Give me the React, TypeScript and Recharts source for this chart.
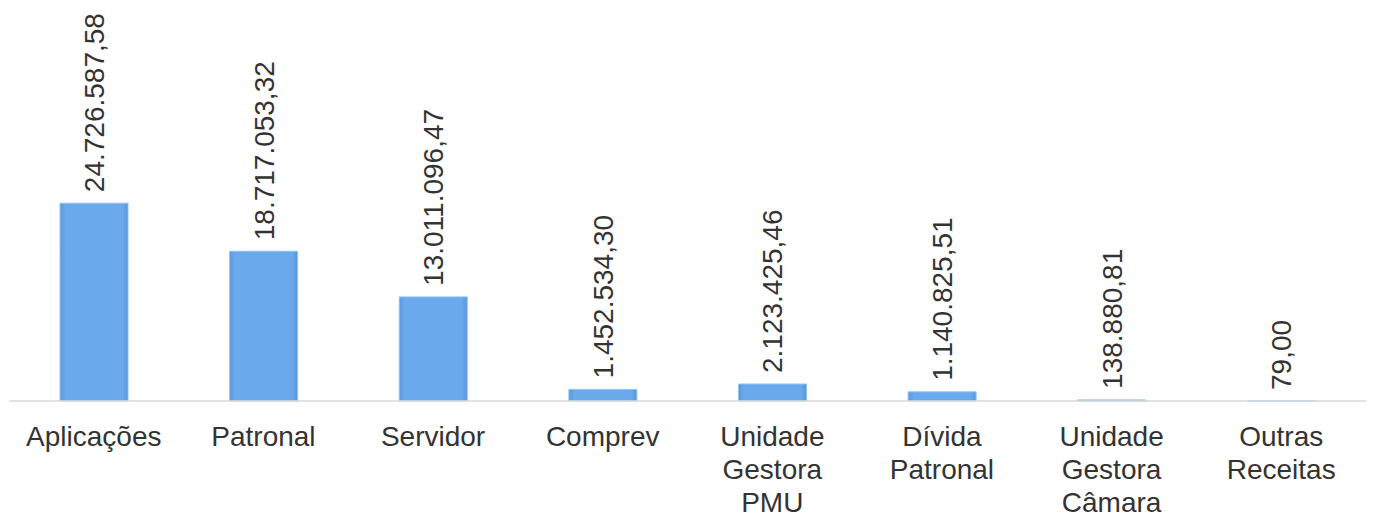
import React from "react";
import { BarChart, Bar, XAxis, YAxis, LabelList } from "recharts";

const categories = [
  "Aplicações",
  "Patronal",
  "Servidor",
  "Comprev",
  "Unidade\nGestora\nPMU",
  "Dívida\nPatronal",
  "Unidade\nGestora\nCâmara",
  "Outras\nReceitas",
];
const values = [
  24726587.58, 18717053.32, 13011096.47, 1452534.3, 2123425.46, 1140825.51,
  138880.81, 79.0,
];

const data = categories.map((c, i) => ({ name: c, value: values[i] }));

const FONT = "'Liberation Sans', Arial, sans-serif";

function fmt(v: number): string {
  const fixed = v.toFixed(2);
  const [intPart, dec] = fixed.split(".");
  const withDots = intPart.replace(/\B(?=(\d{3})+(?!\d))/g, ".");
  return withDots + "," + dec;
}

const Tick = (props: any) => {
  const { x, y, payload } = props;
  const lines = String(payload.value).split("\n");
  return (
    <g>
      {lines.map((l, i) => (
        <text
          key={i}
          x={x}
          y={y + 43 + i * 33}
          textAnchor="middle"
          fontFamily={FONT}
          fontSize={28}
          fill="#333333"
        >
          {l}
        </text>
      ))}
    </g>
  );
};

const ValueLabel = (props: any) => {
  const { x, y, width, value } = props;
  const cx = x + width / 2 + 10;
  const ty = y - 11;
  return (
    <text
      x={cx}
      y={ty}
      transform={`rotate(-90 ${cx} ${ty})`}
      textAnchor="start"
      fontFamily={FONT}
      fontSize={28}
      fill="#333333"
    >
      {fmt(Number(value))}
    </text>
  );
};

export default function App() {
  return (
    <div style={{ position: "absolute", left: 0, top: 0, background: "#fff" }}>
      <BarChart
        width={1377}
        height={518}
        data={data}
        margin={{ top: 1, right: 11, bottom: 7, left: 9 }}
        barCategoryGap={0}
      >
        <defs>
          <linearGradient id="barH" x1="0" y1="0" x2="1" y2="0">
            <stop offset="0%" stopColor="#5a98dd" />
            <stop offset="8%" stopColor="#6aa9ec" />
            <stop offset="92%" stopColor="#6aa9ec" />
            <stop offset="100%" stopColor="#5893d8" />
          </linearGradient>
        </defs>
        <YAxis hide domain={[0, 50000000]} />
        <XAxis
          dataKey="name"
          height={110}
          interval={0}
          tickLine={false}
          tickSize={0}
          axisLine={{ stroke: "#d9d9d9", strokeWidth: 1.5 }}
          tick={<Tick />}
        />
        <Bar
          dataKey="value"
          barSize={68}
          fill="url(#barH)"
          stroke="#8ec3f3"
          strokeWidth={1}
          isAnimationActive={false}
        >
          <LabelList dataKey="value" content={<ValueLabel />} />
        </Bar>
      </BarChart>
    </div>
  );
}
